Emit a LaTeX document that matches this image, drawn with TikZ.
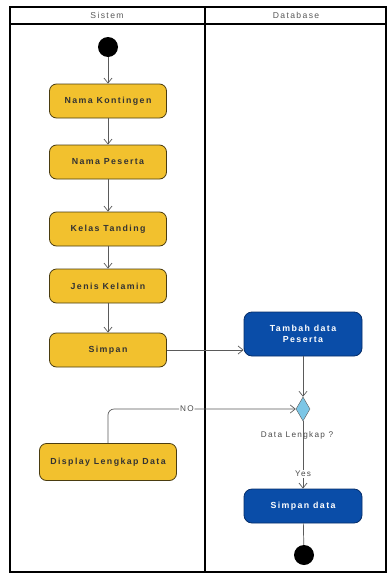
\documentclass[tikz,border=0pt]{standalone}
\usepackage{fontspec}
\setmainfont{Liberation Sans}
\newfontfamily\widesans[LetterSpace=16]{Liberation Sans}
\usetikzlibrary{arrows.meta,shapes.geometric}
\definecolor{actyellow}{HTML}{F2C12E}
\definecolor{actyellowline}{HTML}{4A3C10}
\definecolor{actblue}{HTML}{0A4DA8}
\definecolor{actblueline}{HTML}{062E6A}
\definecolor{decblue}{HTML}{7CC6E6}
\definecolor{flowgray}{HTML}{5A5A5A}
\tikzset{
  x=1pt, y=-1pt,
  lane/.style={draw=black, line width=1.2pt},
  lanetitle/.style={font=\widesans\fontsize{8.6}{9}\selectfont, text=black!65},
  sysact/.style={draw=actyellowline, line width=0.8pt, fill=actyellow, rounded corners=7pt,
    minimum width=117pt, minimum height=34pt, font=\widesans\bfseries\fontsize{8.8}{10}\selectfont, text=black!80},
  dbact/.style={draw=actblueline, line width=0.8pt, fill=actblue, rounded corners=8pt,
    minimum width=118pt, minimum height=34pt, align=center, font=\widesans\bfseries\fontsize{8.8}{11}\selectfont, text=white},
  startdot/.style={circle, fill=black, minimum size=20pt, inner sep=0pt},
  decision/.style={diamond, draw=flowgray, fill=decblue, minimum width=14pt, minimum height=24pt, inner sep=0pt, aspect=0.6},
  flow/.style={draw=flowgray, line width=0.7pt, -{Straight Barb[length=5pt, width=8pt]}},
  flowlabel/.style={font=\widesans\fontsize{8.2}{9}\selectfont, text=black!70, fill=white, inner sep=1pt},
}
\begin{document}
\begin{tikzpicture}
\useasboundingbox (0,0) rectangle (388,576);
\fill[white] (0,0) rectangle (388,576);

% swimlanes
\draw[lane] (10,7) rectangle (386,572);
\draw[lane] (10,24) -- (386,24);
\draw[lane] (205,7) -- (205,572);
\node[lanetitle] (tsys) at (107,15.5) {Sistem};
\node[lanetitle] (tdb) at (296,15.5) {Database};

% Sistem lane
\node[startdot] (start) at (108,47) {};
\node[sysact] (kont) at (108,101) {Nama Kontingen};
\node[sysact] (pes) at (108,162) {Nama Peserta};
\node[sysact] (kelas) at (108,229) {Kelas Tanding};
\node[sysact] (jk) at (108,286) {Jenis Kelamin};
\node[sysact] (simpan) at (108,350) {Simpan};
\node[sysact, minimum width=137pt, minimum height=37pt] (disp) at (108,462) {Display Lengkap Data};

% Database lane
\node[dbact, minimum height=44pt] (tambah) at (303,334) {Tambah data\\Peserta};
\node[decision] (cek) at (303,409) {};
\node[font=\widesans\fontsize{8.2}{9}\selectfont, text=black!70] (cektxt) at (297,435) {Data Lengkap ?};
\node[dbact] (simdata) at (303,506) {Simpan data};
\node[startdot] (end) at (304,555) {};

% flows
\draw[flow] (start) -- (kont);
\draw[flow] (kont) -- (pes);
\draw[flow] (pes) -- (kelas);
\draw[flow] (kelas) -- (jk);
\draw[flow] (jk) -- (simpan);
\draw[flow] (simpan.east) -- (tambah.west |- simpan.east);
\draw[flow] (tambah) -- (cek);
\draw[flow] (cek) -- node[flowlabel, pos=0.78] (yes) {Yes} (simdata);
\draw[draw=flowgray, line width=0.7pt] (simdata) -- (end);
\draw[flow, rounded corners=6pt] (disp.north) -- (disp.north |- cek.west) -- node[flowlabel, pos=0.42] (no) {NO} (cek.west);
\end{tikzpicture}
\end{document}
